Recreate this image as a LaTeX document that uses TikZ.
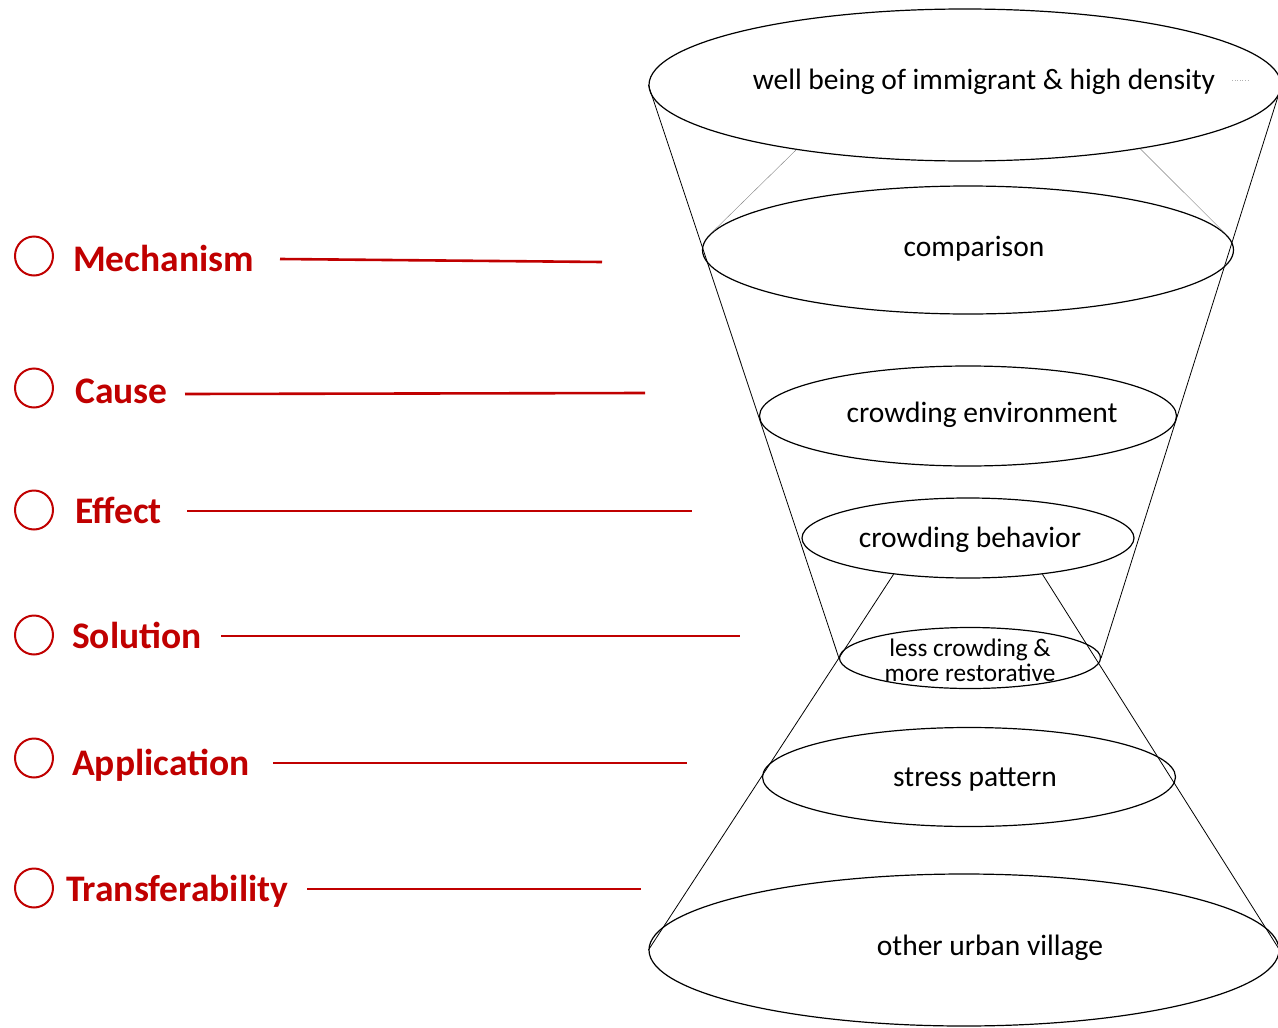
\documentclass[tikz,border=0pt]{standalone}
\usepackage{fontspec}
\setmainfont{Carlito}
\usetikzlibrary{shapes.geometric}
\definecolor{lblred}{RGB}{192,0,0}
\begin{document}
\begin{tikzpicture}[x=1pt,y=-1pt,
  ring/.style={draw, ellipse, inner sep=0pt, line width=1.2pt},
  cone/.style={line width=0.8pt},
  faint/.style={draw=gray, line width=0.4pt},
  txt/.style={font=\fontsize{29.5}{30}\selectfont, anchor=mid, inner sep=0pt},
  smalltxt/.style={font=\fontsize{25.3}{25}\selectfont, align=center, inner sep=0pt},
  bullet/.style={draw=lblred, ellipse, line width=2pt, minimum width=38pt, minimum height=39pt, inner sep=0pt},
  lbl/.style={text=lblred, font=\bfseries\fontsize{37.5}{37.5}\selectfont, anchor=base west, inner sep=0pt},
  rline/.style={draw=lblred, line width=2.6pt}]
\useasboundingbox (0,0) rectangle (1278,1028);

% funnel ellipses
\node[ring, minimum width=632pt, minimum height=152pt] (top) at (965,85) {};
\node[ring, minimum width=531pt, minimum height=128pt] (comp) at (968,250) {};
\node[ring, minimum width=417pt, minimum height=100pt] (env) at (968,416) {};
\node[ring, minimum width=332pt, minimum height=80pt] (beh) at (968,538) {};
\node[ring, minimum width=261pt, minimum height=61pt] (less) at (970,658) {};
\node[ring, minimum width=413pt, minimum height=99pt] (stress) at (969,777) {};
\node[ring, minimum width=630pt, minimum height=152pt] (village) at (964,950) {};

% texts
\node[txt] (t1) at (984,87) {well being of immigrant \& high density};
\node[txt] (t2) at (974,254) {comparison};
\node[txt] (t3) at (982,420) {crowding environment};
\node[txt] (t4) at (970,545) {crowding behavior};
\node[smalltxt] (t5) at (970,660) {less crowding \&\\more restorative};
\node[txt] (t6) at (975,784) {stress pattern};
\node[txt] (t7) at (990,953) {other urban village};

\coordinate (dotA) at (1232,80);
\coordinate (dotB) at (1249,80);
\draw[gray!60, dotted, line width=0.6pt] (dotA) -- (dotB);

% cone lines
\draw[cone] (top.west) -- (less.west);
\draw[cone] (top.east) -- (less.east);
\draw[cone] (beh.206) -- (village.west);
\draw[cone] (beh.334) -- (village.east);
\draw[faint] (top.201) -- (comp.176);
\draw[faint] (top.340) -- (comp.4);

% left labels
\node[bullet] (b1) at (34,256) {};
\node[bullet] (b2) at (34,388) {};
\node[bullet] (b3) at (34,510) {};
\node[bullet] (b4) at (34,635) {};
\node[bullet] (b5) at (34,758) {};
\node[bullet] (b6) at (34,888) {};

\node[lbl] (l1) at (73,271) {Mechanism};
\node[lbl] (l2) at (75,403) {Cause};
\node[lbl] (l3) at (75,523) {Effect};
\node[lbl] (l4) at (72,648) {Solution};
\node[lbl] (l5) at (72,775) {Application};
\node[lbl] (l6) at (66,901) {Transferability};

\coordinate (m1) at (280,259); \coordinate (m2) at (602,262);
\coordinate (c1) at (185,394); \coordinate (c2) at (645,393);
\coordinate (e1) at (187,511); \coordinate (e2) at (692,511);
\coordinate (s1) at (221,636); \coordinate (s2) at (740,636);
\coordinate (a1) at (273,763); \coordinate (a2) at (687,763);
\coordinate (f1) at (307,889); \coordinate (f2) at (641,889);
\draw[rline] (m1) -- (m2);
\draw[rline] (c1) -- (c2);
\draw[rline] (e1) -- (e2);
\draw[rline] (s1) -- (s2);
\draw[rline] (a1) -- (a2);
\draw[rline] (f1) -- (f2);
\end{tikzpicture}
\end{document}
